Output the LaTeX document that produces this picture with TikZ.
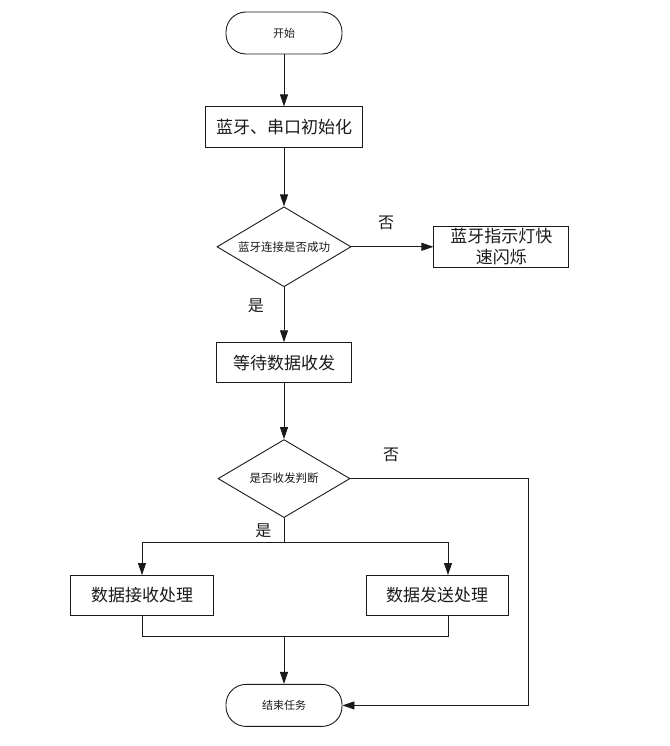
\documentclass[tikz,border=0pt]{standalone}
\usepackage{fontspec}
\setmainfont{Noto Sans CJK SC}
\usetikzlibrary{arrows.meta,positioning,shapes.geometric,calc}
\definecolor{ink}{HTML}{1A1A1A}
\tikzset{
  >={Triangle[length=12pt,width=8pt]},
  every node/.style={text=ink},
  box/.style={draw=ink,line width=0.9pt,rectangle,minimum height=41pt,align=center,inner sep=2pt,font=\fontsize{17}{21}\selectfont},
  termbox/.style={box,rounded corners=20pt,minimum width=116pt,minimum height=42pt,font=\fontsize{11}{13}\selectfont},
  decision/.style={draw=ink,line width=0.9pt,diamond,aspect=1.675,inner sep=0pt,minimum width=134pt,minimum height=80pt,font=\fontsize{11.5}{13}\selectfont},
  arrow/.style={->,line width=0.9pt,draw=ink},
  link/.style={line width=0.9pt,draw=ink},
  lbl/.style={inner sep=0pt,font=\fontsize{16}{18}\selectfont},
}

\begin{document}
\begin{tikzpicture}[x=1pt,y=1pt]
\useasboundingbox (0,0) rectangle (669,-746);

\node[termbox] (start) at (284,-33) {开始};
\node[box,minimum width=157pt,below=52pt of start] (init) {蓝牙、串口初始化};
\node[decision,below=58pt of init] (chk) {蓝牙连接是否成功};
\node[box,minimum width=135pt,right=82pt of chk] (blink) {蓝牙指示灯快\\速闪烁};
\node[box,minimum width=135pt,minimum height=40pt,below=55pt of chk] (wait) {等待数据收发};
\node[decision,minimum width=132pt,minimum height=78pt,below=56pt of wait] (sel) {是否收发判断};
\node[box,minimum width=143pt,minimum height=40pt,below=57pt of sel,xshift=-142pt] (recv) {数据接收处理};
\node[box,minimum width=142pt,minimum height=40pt,below=57pt of sel,xshift=153pt] (send) {数据发送处理};
\coordinate (join) at ($(recv.south -| sel.south)+(0,-20pt)$);
\node[termbox,below=48pt of join] (stop) {结束任务};

\draw[arrow] (start) -- (init);
\draw[arrow] (init) -- (chk);
\draw[arrow] (chk) -- (blink);
\draw[arrow] (chk) -- (wait);
\draw[arrow] (wait) -- (sel);

\node[lbl,above right=16.5pt and 26.5pt of chk.east] (no1) {否};
\node[lbl,below left=11.5pt and 20pt of chk.south] (yes1) {是};

% branch on receive / send
\draw[link] (sel.south) -- ++(0,-24pt) coordinate (split);
\draw[arrow] (split) -| (recv.north);
\draw[arrow] (split) -| ([xshift=11pt]send.north);
\draw[link] (recv.south) |- (join);
\draw[link] ([xshift=11pt]send.south) |- (join);
\draw[arrow] (join) -- (stop);
\draw[arrow] (sel.east) -- ++(178pt,0) |- (stop.east);

\node[lbl,above right=16.5pt and 32.5pt of sel.east] (no2) {否};
\node[lbl,below left=5.5pt and 12.5pt of sel.south] (yes2) {是};

\end{tikzpicture}
\end{document}
